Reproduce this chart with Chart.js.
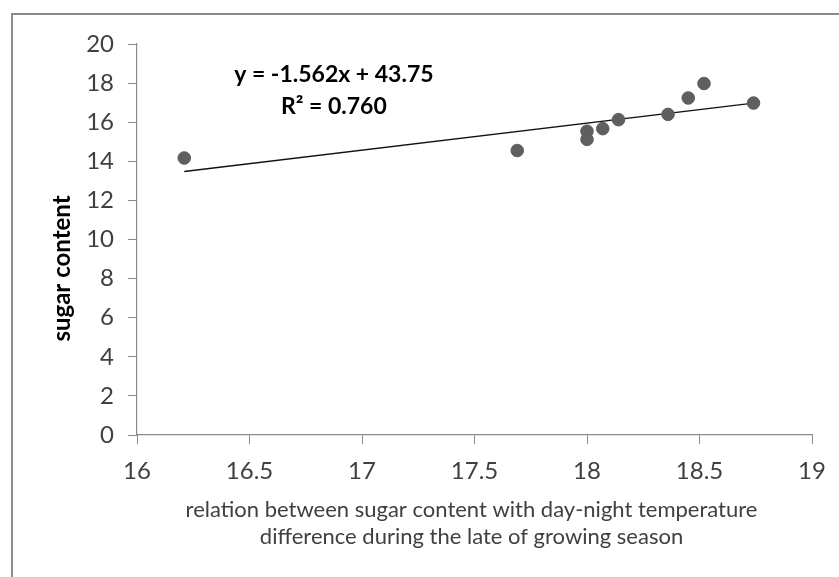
<!DOCTYPE html>
<html>
<head>
<meta charset="utf-8">
<script src="https://cdn.jsdelivr.net/npm/chart.js@4"></script>
<style>
  body { margin: 0; background: #fff; }
  #wrap { position: relative; width: 839px; height: 577px; }
  #frame { position: absolute; left: 11px; top: 13px; right: 0; bottom: 0;
           border-top: 2px solid #8c8c8c; border-left: 2px solid #8c8c8c; }
  canvas { position: absolute; left: 0; top: 0; }
</style>
</head>
<body>
<div id="wrap">
  <div id="frame"></div>
  <canvas id="sugarChart" width="839" height="577"></canvas>
</div>
<script>
// day-night temperature difference vs sugar content
const tempDiff = [16.21, 17.69, 18.0, 18.0, 18.07, 18.14, 18.36, 18.45, 18.52, 18.74];
const sugar = [14.17, 14.55, 15.54, 15.12, 15.67, 16.13, 16.40, 17.24, 17.98, 16.98];

const equationLines = ['y = -1.562x + 43.75', 'R\u00B2 = 0.760'];
const yTitle = 'sugar content';
const xTitle = ['relation between sugar content with day-night temperature',
                'difference during the late of growing season'];

// least squares trendline through the points
function trend(xs, ys) {
    const n = xs.length;
    const mx = xs.reduce((a, b) => a + b, 0) / n;
    const my = ys.reduce((a, b) => a + b, 0) / n;
    let sxy = 0, sxx = 0;
    for (let i = 0; i < n; i++) {
        sxy += (xs[i] - mx) * (ys[i] - my);
        sxx += (xs[i] - mx) * (xs[i] - mx);
    }
    const slope = sxy / sxx;
    const icpt = my - slope * mx;
    const x0 = Math.min(...xs), x1 = Math.max(...xs);
    return [{ x: x0, y: slope * x0 + icpt }, { x: x1, y: slope * x1 + icpt }];
}

const FONT = 'Lato, "Open Sans", sans-serif';
const TEXT = '#404040';
const AXIS = '#8a8a8a';

const annotate = {
    id: 'annotate',
    afterDraw(chart) {
        const c = chart.ctx;
        const area = chart.chartArea;
        const xs = chart.scales.x, ys = chart.scales.y;
        c.save();
        c.fillStyle = '#000';
        c.textAlign = 'center';
        c.textBaseline = 'middle';
        c.font = 'bold 23px ' + FONT;
        const ex = xs.getPixelForValue(16.875);
        c.fillText(equationLines[0], ex, ys.getPixelForValue(18.45));
        c.fillText(equationLines[1], ex, ys.getPixelForValue(16.8));

        c.fillStyle = TEXT;
        c.font = '22px ' + FONT;
        const cx = (area.left + area.right) / 2 - 3;
        c.fillText(xTitle[0], cx, 510);
        c.fillText(xTitle[1], cx, 537);

        c.fillStyle = '#000';
        c.font = 'bold 24px ' + FONT;
        c.translate(62, (area.top + area.bottom) / 2 + 29);
        c.rotate(-Math.PI / 2);
        c.fillText(yTitle, 0, 0);
        c.restore();
    }
};

const tickFmt = v => String(Math.round(v * 10) / 10);

new Chart(document.getElementById('sugarChart'), {
    type: 'scatter',
    data: {
        datasets: [{
            label: 'sugar content',
            data: tempDiff.map((t, i) => ({ x: t, y: sugar[i] })),
            backgroundColor: '#5f5f5f',
            borderColor: '#5f5f5f',
            pointRadius: 6.3,
            pointHoverRadius: 6.3,
        }, {
            type: 'line',
            label: 'trend',
            data: trend(tempDiff, sugar),
            borderColor: '#111',
            borderWidth: 1.3,
            pointRadius: 0,
            fill: false,
        }]
    },
    options: {
        responsive: false,
        animation: false,
        layout: { padding: { left: 0, top: 44, right: 27, bottom: 0 } },
        plugins: { legend: { display: false }, tooltip: { enabled: false } },
        scales: {
            x: {
                type: 'linear',
                min: 16, max: 19,
                afterFit(s) { s.height = 142; },
                ticks: { stepSize: 0.5, color: TEXT, font: { family: FONT, size: 24 }, padding: 13, maxRotation: 0, callback: tickFmt },
                grid: { drawOnChartArea: false, tickLength: 9, color: AXIS },
                border: { color: AXIS, width: 1.2 },
            },
            y: {
                min: 0, max: 20,
                afterFit(s) { s.width = 137; },
                ticks: { stepSize: 2, color: TEXT, font: { family: FONT, size: 24 }, padding: 14, callback: tickFmt },
                grid: { drawOnChartArea: false, tickLength: 9, color: AXIS },
                border: { color: AXIS, width: 1.2 },
            }
        }
    },
    plugins: [annotate]
});
</script>
</body>
</html>
